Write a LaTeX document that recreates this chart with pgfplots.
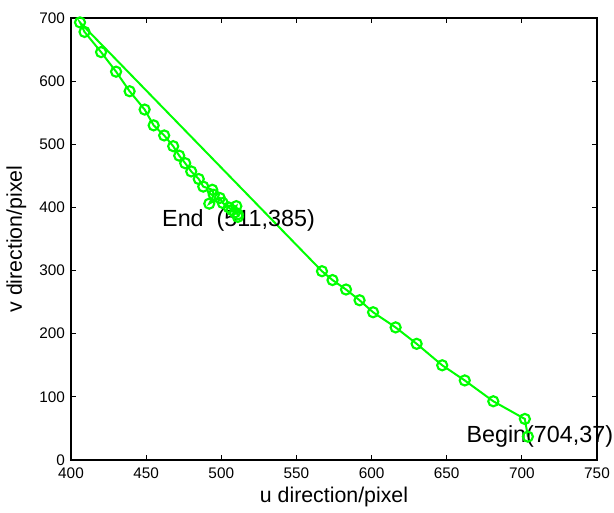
\documentclass[border=0pt]{standalone}
\usepackage{pgfplots}
\pgfplotsset{compat=1.18}
\usepackage{fontspec}
\setmainfont{Liberation Sans}
\definecolor{mgreen}{RGB}{0,255,0}
\begin{document}
\begin{tikzpicture}
\begin{axis}[
  scale only axis,
  width=394.5pt, height=331.5pt,
  xmin=400, xmax=750, ymin=0, ymax=700,
  xtick={400,450,...,750}, ytick={0,100,...,700},
  tick align=inside,
  major tick length=4pt,
  axis line style={line width=1.3pt},
  every tick/.style={black, line width=0.8pt},
  /pgf/number format/assume math mode=true,
  tick label style={font=\fontsize{11.5}{12}\selectfont},
  xticklabel style={yshift=-2.5pt},
  yticklabel style={xshift=-1pt},
  label style={font=\fontsize{16}{18}\selectfont},
  xlabel={u direction/pixel},
  ylabel={v direction/pixel},
  xlabel style={yshift=1pt},
  ylabel style={yshift=3pt},
  scaled ticks=false,
  clip=false,
]
\addplot[color=mgreen, line width=1.5pt, mark=o, mark size=3.8pt, mark options={line width=1.6pt}] coordinates {
(704,37) (702,65) (681,93) (662,126) (647,150) (630,184) (616,210) (601,234) (592,253) (583,270) (574,285) (567,299)
(406,693) (409,678) (420,646) (430,615) (439,584) (449,555) (455,530) (462,514) (468,497) (472,482) (476,470) (480,457) (485,445) (488,433) (494,428) (495,420) (492,406) (499,415) (501,407) (505,400) (507,396) (510,402) (509,392) (511,389) (511,385)
};
\node[anchor=west, inner sep=0pt, font=\fontsize{17.5}{20}\selectfont] at (axis cs:460.5,380) {End\ \ (511,385)};
\node[anchor=west, inner sep=0pt, font=\fontsize{17.5}{20}\selectfont] at (axis cs:663,36.5) {Begin(704,37)};
\end{axis}
\pgfresetboundingbox
\path[use as bounding box] (-53.25pt,-39.75pt) rectangle (407.25pt,345pt);
\end{tikzpicture}
\end{document}
